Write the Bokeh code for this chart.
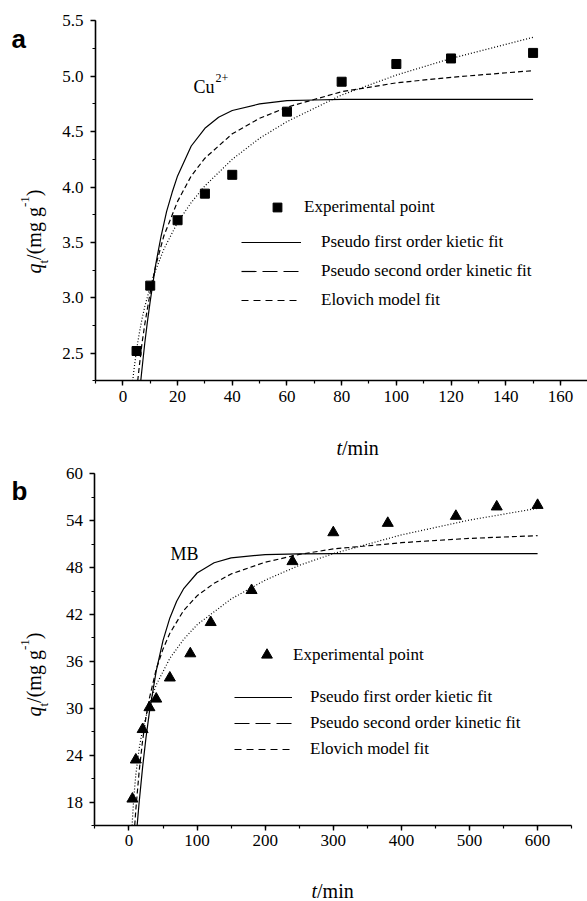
import math
from bokeh.plotting import figure
from bokeh.models import (Range1d, SingleIntervalTicker, PrintfTickFormatter,
                          Label, Legend, LegendItem)
from bokeh.layouts import column
from bokeh.embed import file_html
from bokeh.resources import INLINE

SERIF = "Times New Roman"
SANS = "Liberation Sans"

# ---------------- data: panel a (Cu2+) ----------------
cu_t = [5, 10, 20, 30, 40, 60, 80, 100, 120, 150]
cu_q = [2.52, 3.11, 3.70, 3.94, 4.11, 4.68, 4.95, 5.11, 5.16, 5.21]

cu_pfo_t = [6.54, 7, 8, 9, 10, 12, 14, 16, 18, 20, 25, 30, 35, 40, 50, 60, 70, 80, 100, 120, 150]
cu_pfo_q = [2.25, 2.36, 2.59, 2.79, 2.97, 3.30, 3.56, 3.78, 3.95, 4.10, 4.37, 4.53, 4.63, 4.69,
            4.75, 4.78, 4.785, 4.79, 4.79, 4.79, 4.79]

cu_pso_t = [5.42, 6, 7, 8, 10, 12, 15, 20, 25, 30, 40, 50, 60, 80, 100, 120, 150]
cu_pso_q = [2.25, 2.38, 2.59, 2.76, 3.05, 3.29, 3.56, 3.87, 4.10, 4.26, 4.48, 4.62, 4.72,
            4.86, 4.94, 4.99, 5.05]

cu_elo_t = [3.6, 4, 5, 6, 7, 8, 10, 12, 15, 20, 25, 30, 40, 50, 60, 80, 100, 120, 150]
cu_elo_q = [2.25, 2.34, 2.53, 2.68, 2.81, 2.92, 3.10, 3.25, 3.44, 3.68, 3.86, 4.01, 4.25,
            4.44, 4.59, 4.83, 5.01, 5.16, 5.35]

# ---------------- data: panel b (MB) ----------------
mb_t = [5, 10, 20, 30, 40, 60, 90, 120, 180, 240, 300, 380, 480, 540, 600]
mb_q = [18.4, 23.4, 27.3, 30.1, 31.2, 33.9, 37.0, 41.0, 45.1, 48.8, 52.5, 53.7, 54.6, 55.8, 56.0]

mb_pfo_t = [11.95, 15, 20, 25, 30, 40, 50, 60, 70, 80, 100, 125, 150, 200, 250, 300, 400, 500, 600]
mb_pfo_q = [15.0, 18.05, 22.47, 26.27, 29.55, 34.80, 38.69, 41.57, 43.70, 45.28, 47.32, 48.63,
            49.25, 49.68, 49.77, 49.8, 49.8, 49.8, 49.8]

mb_pso_t = [8.4, 10, 15, 20, 25, 30, 40, 50, 60, 80, 100, 125, 150, 200, 250, 300, 400, 500, 600]
mb_pso_q = [15.0, 17.0, 22.0, 25.9, 28.9, 31.3, 35.0, 37.6, 39.6, 42.5, 44.4, 46.0, 47.2, 48.7,
            49.7, 50.4, 51.2, 51.75, 52.1]

mb_elo_t = [4.6, 5, 7, 10, 15, 20, 30, 40, 60, 80, 100, 150, 200, 250, 300, 400, 500, 600]
mb_elo_q = [15.0, 15.7, 18.5, 21.5, 24.9, 27.3, 30.6, 33.0, 36.4, 38.8, 40.7, 44.0, 46.4, 48.3,
            49.8, 52.2, 54.1, 55.6]

legend_labels = ["Experimental point", "Pseudo first order kietic fit",
                 "Pseudo second order kinetic fit", "Elovich model fit"]


def make_fig(h, xr, yr):
    p = figure(width=587, height=h, x_range=Range1d(*xr), y_range=Range1d(*yr),
               output_backend="svg", toolbar_location=None,
               min_border_left=0, min_border_right=0, min_border_top=0, min_border_bottom=0)
    p.xgrid.visible = False
    p.ygrid.visible = False
    p.outline_line_color = None
    p.background_fill_color = "white"
    p.border_fill_color = "white"
    return p


def style(p, xint, yint, xloc, yloc, xb, yb, yfmt=None):
    p.xaxis.ticker = SingleIntervalTicker(interval=xint, num_minor_ticks=2)
    p.yaxis.ticker = SingleIntervalTicker(interval=yint, num_minor_ticks=2)
    p.xaxis.fixed_location = xloc
    p.yaxis.fixed_location = yloc
    p.xaxis.bounds = xb
    p.yaxis.bounds = yb
    if yfmt:
        p.yaxis.formatter = PrintfTickFormatter(format=yfmt)
    ax = p.axis
    ax.axis_line_width = 1.6
    ax.axis_line_color = "black"
    ax.major_tick_line_width = 1.4
    ax.minor_tick_line_width = 1.2
    ax.major_tick_line_color = "black"
    ax.minor_tick_line_color = "black"
    ax.major_tick_out = 5
    ax.major_tick_in = 0
    ax.minor_tick_out = 3
    ax.minor_tick_in = 0
    ax.major_label_text_font = SERIF
    ax.major_label_text_font_size = "17px"
    ax.major_label_text_color = "black"
    p.xaxis.major_label_standoff = 5
    p.yaxis.major_label_standoff = 7


def lab(p, x, y, text, size, style_="normal", font=SERIF, angle=0.0):
    p.add_layout(Label(x=x, y=y, x_units="screen", y_units="screen", text=text,
                       text_font=font, text_font_size=f"{size}px", text_font_style=style_,
                       text_color="black", text_align="left", text_baseline="alphabetic",
                       angle=angle))


def ytitle(p, x, y):
    # q_t/(mg g^-1), rotated, reading upward
    parts = [("q", 20, "italic", 0, 0.5), ("t", 13, "normal", 10, 0.278),
             ("/(mg g", 20, "normal", 0, 2.639), ("-1", 13, "normal", -8.5, 0.833),
             (")", 20, "normal", 0, 0.333)]
    pos = y
    for text, size, st, dx, w in parts:
        lab(p, x + dx, pos, text, size, st, angle=math.pi / 2)
        pos += w * size


def xtitle(p, x, y):
    lab(p, x, y, "t", 20, "italic")
    lab(p, x + 0.278 * 20, y, "/min", 20)


def mk_legend(items, loc, gw, gh, sp, standoff):
    return Legend(items=items, location=loc, padding=0, margin=0, spacing=sp,
                  glyph_width=gw, glyph_height=gh, label_height=20, label_standoff=standoff,
                  label_text_font=SERIF, label_text_font_size="17px", label_text_color="black",
                  label_text_baseline="middle", border_line_alpha=0, background_fill_alpha=0,
                  inactive_fill_alpha=0, click_policy="none")


def add_curves(p, pts, curves, marker, msize, exp_leg, line_leg):
    sc = p.scatter(pts[0], pts[1], marker=marker, size=msize, color="black")
    leg_r = []
    for (xs, ys), dash, ldash in zip(curves, ["solid", "5 3", "1 2"], ["solid", "15 6", "7 5"]):
        p.line(xs, ys, line_color="black", line_width=1.2, line_dash=dash)
        r = p.line(xs, ys, line_color="black", line_width=1.2, line_dash=ldash, visible=False)
        leg_r.append(r)
    l1 = mk_legend([LegendItem(label=legend_labels[0], renderers=[sc])], *exp_leg)
    l2 = mk_legend([LegendItem(label=l, renderers=[r]) for l, r in zip(legend_labels[1:], leg_r)],
                   *line_leg)
    p.add_layout(l1)
    p.add_layout(l2)


# ---------------- panel a ----------------
HA = 458
pa = make_fig(HA, (-44.75, 169.9), (1.550, 5.683))
style(pa, 20, 0.5, 2.25, -10, (-10, 170), (2.25, 5.5), "%.1f")
add_curves(pa, (cu_t, cu_q),
           [(cu_pfo_t, cu_pfo_q), (cu_pso_t, cu_pso_q), (cu_elo_t, cu_elo_q)],
           "square", 9,
           ((266, 240), 22, 22, 0, 16),
           ((241, 148), 60, 20, 9, 20))
ytitle(pa, 33.3, 185)
xtitle(pa, 336, 11)
lab(pa, 193, 372, "Cu", 18)
lab(pa, 215, 381, "2+", 12)
lab(pa, 11, 420, "a", 26, "bold", font=SANS)

# ---------------- panel b ----------------
HB = 442
pb = make_fig(HB, (-188.7, 673.3), (5.39, 61.98))
style(pb, 100, 6, 15, -50, (-50, 650), (15, 60))
add_curves(pb, (mb_t, mb_q),
           [(mb_pfo_t, mb_pfo_q), (mb_pso_t, mb_pso_q), (mb_elo_t, mb_elo_q)],
           "triangle", 11,
           ((253, 232), 27, 27, 0, 13),
           ((234, 141), 58, 20, 6, 18))
ytitle(pb, 33.3, 184)
xtitle(pb, 311, 10)
lab(pb, 170, 347, "MB", 18)
lab(pb, 11, 410, "b", 26, "bold", font=SANS)

layout = column(pa, pb)
open("out.html", "w").write(file_html(layout, INLINE))
